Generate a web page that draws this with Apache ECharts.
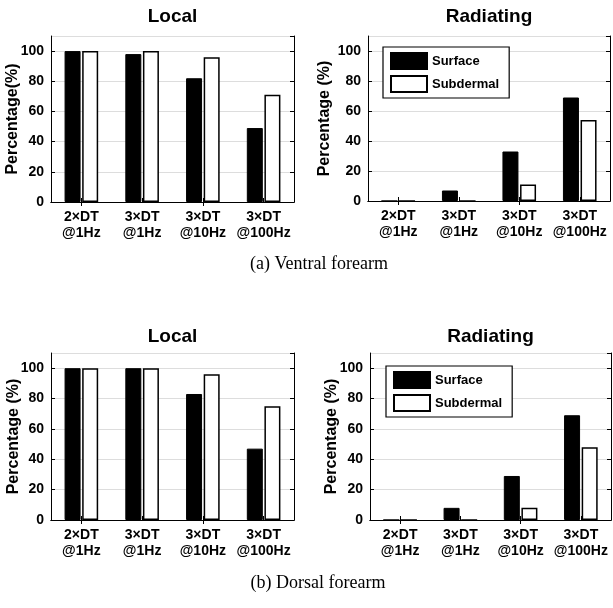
<!DOCTYPE html>
<html>
<head>
<meta charset="utf-8">
<script src="https://cdn.jsdelivr.net/npm/echarts@6/dist/echarts.min.js"></script>
<style>
html,body{margin:0;padding:0;background:#fff;}
#chart{width:613px;height:608px;}
</style>
</head>
<body>
<div id="chart"></div>
<script>
const categories = ['2×DT\n@1Hz', '3×DT\n@1Hz', '3×DT\n@10Hz', '3×DT\n@100Hz'];
const seriesNames = ['Surface', 'Subdermal'];
const yTicks = { min: 0, max: 110, interval: 20 };

const ventralLocalSurface = [100, 98, 82, 49];
const ventralLocalSubdermal = [100, 100, 96, 71];
const ventralRadSurface = [0, 7, 33, 69];
const ventralRadSubdermal = [0, 0, 11, 54];
const dorsalLocalSurface = [100, 100, 83, 47];
const dorsalLocalSubdermal = [100, 100, 96, 75];
const dorsalRadSurface = [0, 8, 29, 69];
const dorsalRadSubdermal = [0, 0, 8, 48];

const panelTitles = ['Local', 'Radiating', 'Local', 'Radiating'];
const captions = ['(a) Ventral forearm', '(b) Dorsal forearm'];
const yName = 'Percentage (%)';

const FONT = 'Liberation Sans, Arial, sans-serif';
const panels = [
  { rect: { left: 51, top: 36, width: 243, height: 166 }, s: ventralLocalSurface, d: ventralLocalSubdermal, gap: 30, yname: 'Percentage(%)', ty: 17 },
  { rect: { left: 368, top: 36, width: 242, height: 165 }, s: ventralRadSurface, d: ventralRadSubdermal, gap: 35, yname: yName, ty: 17 },
  { rect: { left: 51, top: 353, width: 243, height: 167 }, s: dorsalLocalSurface, d: dorsalLocalSubdermal, gap: 29, yname: yName, ty: 337 },
  { rect: { left: 370, top: 353, width: 241, height: 167 }, s: dorsalRadSurface, d: dorsalRadSubdermal, gap: 30, yname: yName, ty: 337 }
];

const grid = [], xAxis = [], yAxis = [], series = [], graphic = [];
const lineStyle = { color: '#000', width: 1 };

panels.forEach((p, i) => {
  grid.push(Object.assign({ containLabel: false }, p.rect));
  xAxis.push({
    type: 'category', gridIndex: i, data: categories, position: 'bottom',
    axisLine: { show: true, lineStyle },
    axisTick: { show: true, inside: true, alignWithLabel: true, length: 4, lineStyle },
    axisLabel: { color: '#000', fontFamily: FONT, fontWeight: 'bold', fontSize: 14, lineHeight: 16, margin: 7, interval: 0 }
  });
  xAxis.push({
    type: 'category', gridIndex: i, data: categories, position: 'top',
    axisLine: { show: true, lineStyle },
    axisTick: { show: true, inside: true, alignWithLabel: true, length: 4, lineStyle },
    axisLabel: { show: false }
  });
  yAxis.push({
    type: 'value', gridIndex: i, position: 'left',
    min: yTicks.min, max: yTicks.max, interval: yTicks.interval,
    name: p.yname, nameLocation: 'middle', nameGap: p.gap, nameMoveOverlap: false,
    nameTextStyle: { color: '#000', fontFamily: FONT, fontWeight: 'bold', fontSize: 16 },
    axisLine: { show: true, lineStyle },
    axisTick: { show: true, inside: true, length: 4, lineStyle },
    axisLabel: { color: '#000', fontFamily: FONT, fontWeight: 'bold', fontSize: 14, margin: 7, showMaxLabel: false },
    splitLine: { show: true, lineStyle: { color: '#dddddd', width: 1 } }
  });
  yAxis.push({
    type: 'value', gridIndex: i, position: 'right',
    min: yTicks.min, max: yTicks.max, interval: yTicks.interval,
    axisLine: { show: true, lineStyle },
    axisTick: { show: true, inside: true, length: 4, lineStyle },
    axisLabel: { show: false },
    splitLine: { show: false }
  });
  series.push({
    name: seriesNames[0], type: 'bar', xAxisIndex: 2 * i, yAxisIndex: 2 * i,
    data: p.s, barWidth: 16, barGap: '10%',
    itemStyle: { color: '#000', borderColor: '#000', borderWidth: 1 },
    emphasis: { disabled: true }
  });
  series.push({
    name: seriesNames[1], type: 'bar', xAxisIndex: 2 * i, yAxisIndex: 2 * i,
    data: p.d, barWidth: 16, barGap: '10%',
    itemStyle: { color: '#fff', borderColor: '#000', borderWidth: 1.5 },
    emphasis: { disabled: true }
  });
  graphic.push({
    type: 'text', x: p.rect.left + p.rect.width / 2, y: p.ty,
    style: { text: panelTitles[i], fill: '#000', font: 'bold 19px ' + FONT, textAlign: 'center', textVerticalAlign: 'middle' }
  });
});

graphic.push({ type: 'text', x: 319, y: 264, style: { text: captions[0], fill: '#000', font: '18px Liberation Serif, Times New Roman, serif', textAlign: 'center', textVerticalAlign: 'middle' } });
graphic.push({ type: 'text', x: 318, y: 583, style: { text: captions[1], fill: '#000', font: '18px Liberation Serif, Times New Roman, serif', textAlign: 'center', textVerticalAlign: 'middle' } });

const legendBase = {
  data: seriesNames, orient: 'vertical', itemWidth: 36, itemHeight: 16, itemGap: 5,
  padding: [5, 10, 5, 7], borderColor: '#000', borderWidth: 1.2, backgroundColor: '#fff',
  textStyle: { color: '#000', fontFamily: FONT, fontWeight: 'bold', fontSize: 13 },
  selectedMode: false, icon: 'rect'
};
const legend = [
  Object.assign({}, legendBase, { left: 383, top: 47 }),
  Object.assign({}, legendBase, { left: 386, top: 366 })
];

const chart = echarts.init(document.getElementById('chart'), null, { renderer: 'canvas' });
chart.setOption({
  animation: false,
  backgroundColor: '#fff',
  grid, xAxis, yAxis, series, legend, graphic
});
</script>
</body>
</html>
